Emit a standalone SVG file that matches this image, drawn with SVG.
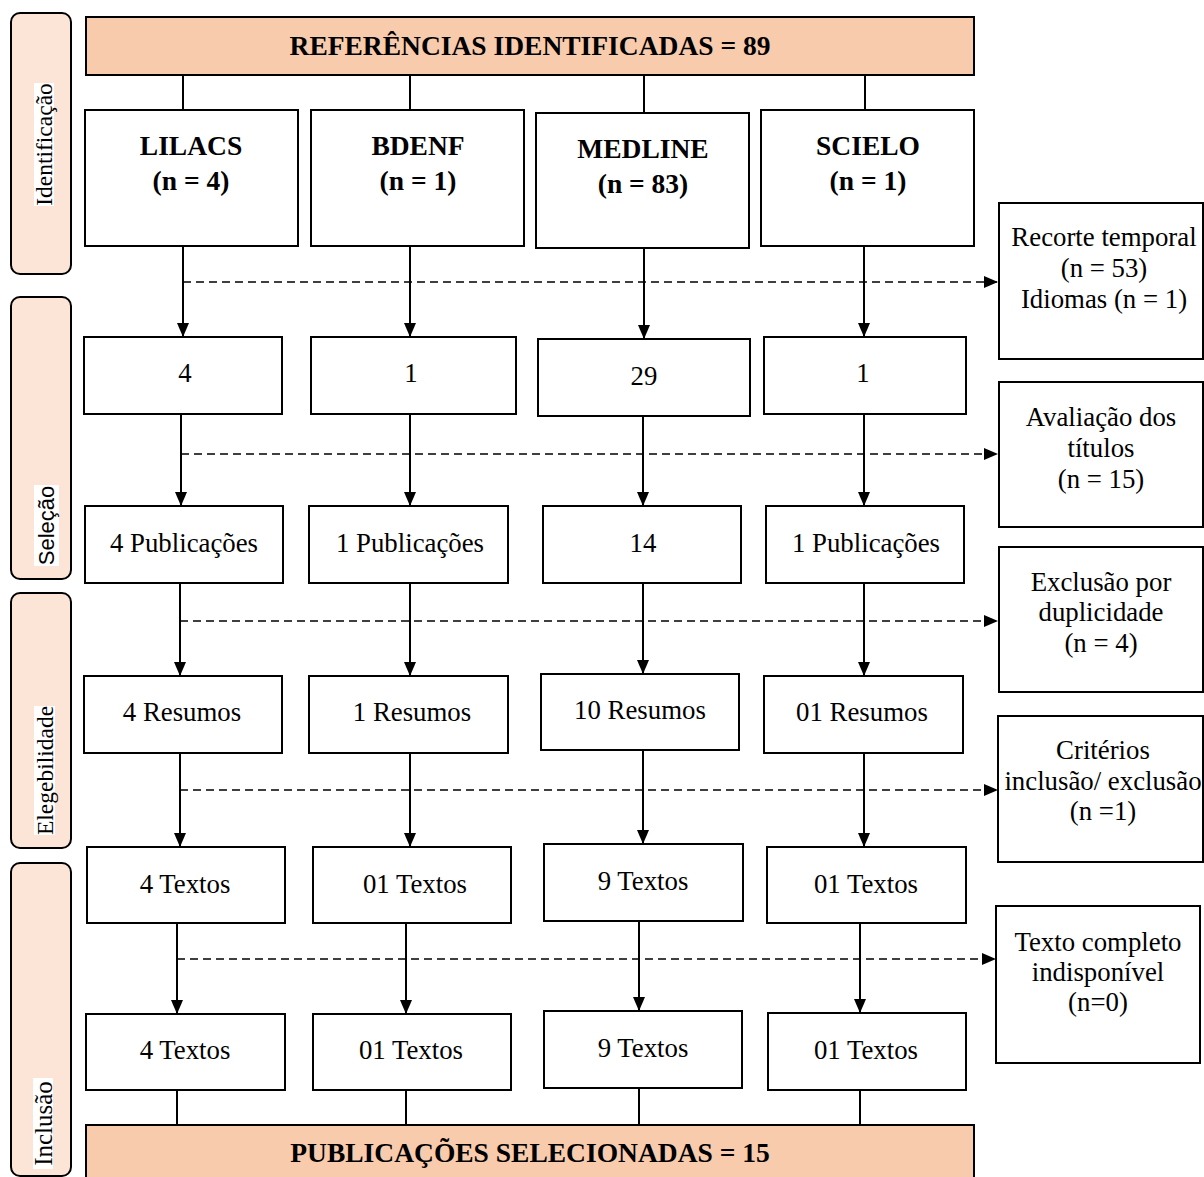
<svg xmlns="http://www.w3.org/2000/svg" width="1204" height="1177" viewBox="0 0 1204 1177">
<style>
.band{fill:#fce4d6;stroke:#000;stroke-width:2}
.hdr{fill:#f8cbad;stroke:#000;stroke-width:2}
.box{fill:#fff;stroke:#000;stroke-width:2}
.t{font-family:"Liberation Serif","Times New Roman",serif;font-size:26.8px;fill:#000;text-anchor:middle;dominant-baseline:central}
.b{font-family:"Liberation Serif","Times New Roman",serif;font-size:27.5px;font-weight:bold;fill:#000;text-anchor:middle;dominant-baseline:central}
.side{font-family:"Liberation Serif","Times New Roman",serif;font-size:23.5px;fill:#000;text-anchor:middle;dominant-baseline:central}
.sides{font-family:"Liberation Sans",Arial,sans-serif;font-size:22px;fill:#000;text-anchor:middle;dominant-baseline:central}
.ln{stroke:#000;stroke-width:2;fill:none}
.ar{stroke:#000;stroke-width:2;fill:none;marker-end:url(#ah)}
.da{stroke:#000;stroke-width:1.6;fill:none;stroke-dasharray:8 5;marker-end:url(#ah)}
</style>
<defs>
<marker id="ah" viewBox="0 0 14 12" refX="14" refY="6" markerWidth="14" markerHeight="12" markerUnits="userSpaceOnUse" orient="auto">
<path d="M0,0 L14,6 L0,12 Z" fill="#000"/>
</marker>
</defs>
<rect width="1204" height="1177" fill="#fff"/>

<g id="phases">
<g id="phase-identificacao">
<rect class="band" x="11" y="13" width="60" height="261" rx="9"/>
<rect x="34" y="83" width="20" height="123" fill="#fff"/>
<text class="side" transform="translate(44,144.5) rotate(-90)">Identificação</text>
</g>
<g id="phase-selecao">
<rect class="band" x="11" y="297" width="60" height="282" rx="9"/>
<rect x="34" y="485" width="25" height="81" fill="#fff"/>
<text class="sides" transform="translate(46.5,525.5) rotate(-90)">Seleção</text>
</g>
<g id="phase-elegebilidade">
<rect class="band" x="11" y="593" width="60" height="255" rx="9"/>
<rect x="34" y="706" width="21" height="129" fill="#fff"/>
<text class="side" transform="translate(44.5,770.5) rotate(-90)">Elegebilidade</text>
</g>
<g id="phase-inclusao">
<rect class="band" x="11" y="863" width="60" height="313" rx="9"/>
<rect x="33" y="1078" width="20" height="91" fill="#fff"/>
<text class="side" style="font-size:25px" transform="translate(43,1123.5) rotate(-90)">Inclusão</text>
</g>
</g>

<g id="connectors">
<line class="ln" x1="183" y1="75" x2="183" y2="110"/>
<line class="ln" x1="410" y1="75" x2="410" y2="110"/>
<line class="ln" x1="644" y1="75" x2="644" y2="113"/>
<line class="ln" x1="865" y1="75" x2="865" y2="110"/>

<line class="ar" x1="183" y1="246" x2="183" y2="337"/>
<line class="ar" x1="410" y1="246" x2="410" y2="337"/>
<line class="ar" x1="644" y1="248" x2="644" y2="339"/>
<line class="ar" x1="864" y1="246" x2="864" y2="337"/>
<line class="da" x1="183" y1="282" x2="998" y2="282"/>

<line class="ar" x1="181" y1="414" x2="181" y2="506"/>
<line class="ar" x1="410" y1="414" x2="410" y2="506"/>
<line class="ar" x1="643" y1="416" x2="643" y2="506"/>
<line class="ar" x1="864" y1="414" x2="864" y2="506"/>
<line class="da" x1="181" y1="454" x2="998" y2="454"/>

<line class="ar" x1="180" y1="583" x2="180" y2="676"/>
<line class="ar" x1="410" y1="583" x2="410" y2="676"/>
<line class="ar" x1="643" y1="583" x2="643" y2="674"/>
<line class="ar" x1="864" y1="583" x2="864" y2="676"/>
<line class="da" x1="180" y1="621" x2="998" y2="621"/>

<line class="ar" x1="180" y1="753" x2="180" y2="847"/>
<line class="ar" x1="410" y1="753" x2="410" y2="847"/>
<line class="ar" x1="643" y1="750" x2="643" y2="844"/>
<line class="ar" x1="864" y1="753" x2="864" y2="847"/>
<line class="da" x1="180" y1="790" x2="998" y2="790"/>

<line class="ar" x1="177" y1="923" x2="177" y2="1014"/>
<line class="ar" x1="406" y1="923" x2="406" y2="1014"/>
<line class="ar" x1="639" y1="921" x2="639" y2="1011"/>
<line class="ar" x1="860" y1="923" x2="860" y2="1013"/>
<line class="da" x1="177" y1="959" x2="996" y2="959"/>

<line class="ln" x1="177" y1="1090" x2="177" y2="1125"/>
<line class="ln" x1="406" y1="1090" x2="406" y2="1125"/>
<line class="ln" x1="639" y1="1088" x2="639" y2="1125"/>
<line class="ln" x1="860" y1="1090" x2="860" y2="1125"/>
</g>

<g id="header">
<rect class="hdr" x="86" y="17" width="888" height="58"/>
<text class="b" x="530" y="45">REFERÊNCIAS IDENTIFICADAS = 89</text>
</g>

<g id="lilacs"><rect class="box" x="85" y="110" width="213" height="136"/><text class="b" x="191" y="145">LILACS</text><text class="b" x="191" y="180">(n = 4)</text></g>
<g id="bdenf"><rect class="box" x="311" y="110" width="213" height="136"/><text class="b" x="418" y="145">BDENF</text><text class="b" x="418" y="180">(n = 1)</text></g>
<g id="medline"><rect class="box" x="536" y="113" width="213" height="135"/><text class="b" x="643" y="148">MEDLINE</text><text class="b" x="643" y="183">(n = 83)</text></g>
<g id="scielo"><rect class="box" x="761" y="110" width="213" height="136"/><text class="b" x="868" y="145">SCIELO</text><text class="b" x="868" y="180">(n = 1)</text></g>

<g id="s1"><rect class="box" x="84" y="337" width="198" height="77"/><text class="t" x="185" y="373">4</text></g>
<g id="s2"><rect class="box" x="311" y="337" width="205" height="77"/><text class="t" x="411" y="373">1</text></g>
<g id="s3"><rect class="box" x="538" y="339" width="212" height="77"/><text class="t" x="644" y="376">29</text></g>
<g id="s4"><rect class="box" x="764" y="337" width="202" height="77"/><text class="t" x="863" y="373">1</text></g>

<g id="p1"><rect class="box" x="85" y="506" width="198" height="77"/><text class="t" x="184" y="543">4 Publicações</text></g>
<g id="p2"><rect class="box" x="309" y="506" width="199" height="77"/><text class="t" x="410" y="543">1 Publicações</text></g>
<g id="p3"><rect class="box" x="543" y="506" width="198" height="77"/><text class="t" x="643" y="543">14</text></g>
<g id="p4"><rect class="box" x="766" y="506" width="198" height="77"/><text class="t" x="866" y="543">1 Publicações</text></g>

<g id="r1"><rect class="box" x="84" y="676" width="198" height="77"/><text class="t" x="182" y="712">4 Resumos</text></g>
<g id="r2"><rect class="box" x="309" y="676" width="199" height="77"/><text class="t" x="412" y="712">1 Resumos</text></g>
<g id="r3"><rect class="box" x="541" y="674" width="198" height="76"/><text class="t" x="640" y="710">10 Resumos</text></g>
<g id="r4"><rect class="box" x="764" y="676" width="199" height="77"/><text class="t" x="862" y="712">01 Resumos</text></g>

<g id="t1"><rect class="box" x="87" y="847" width="198" height="76"/><text class="t" x="185" y="884">4 Textos</text></g>
<g id="t2"><rect class="box" x="313" y="847" width="198" height="76"/><text class="t" x="415" y="884">01 Textos</text></g>
<g id="t3"><rect class="box" x="544" y="844" width="199" height="77"/><text class="t" x="643" y="881">9 Textos</text></g>
<g id="t4"><rect class="box" x="767" y="847" width="199" height="76"/><text class="t" x="866" y="884">01 Textos</text></g>

<g id="f1"><rect class="box" x="86" y="1014" width="199" height="76"/><text class="t" x="185" y="1050">4 Textos</text></g>
<g id="f2"><rect class="box" x="313" y="1014" width="198" height="76"/><text class="t" x="411" y="1050">01 Textos</text></g>
<g id="f3"><rect class="box" x="544" y="1011" width="198" height="77"/><text class="t" x="643" y="1048">9 Textos</text></g>
<g id="f4"><rect class="box" x="768" y="1013" width="198" height="77"/><text class="t" x="866" y="1050">01 Textos</text></g>

<g id="ex1"><rect class="box" x="999" y="203" width="204" height="156"/><text class="t" x="1104" y="237">Recorte temporal</text><text class="t" x="1104" y="268">(n = 53)</text><text class="t" x="1104" y="299">Idiomas (n = 1)</text></g>
<g id="ex2"><rect class="box" x="999" y="382" width="204" height="145"/><text class="t" x="1101" y="417">Avaliação dos</text><text class="t" x="1101" y="448">títulos</text><text class="t" x="1101" y="479">(n = 15)</text></g>
<g id="ex3"><rect class="box" x="999" y="547" width="204" height="145"/><text class="t" x="1101" y="582">Exclusão por</text><text class="t" x="1101" y="612">duplicidade</text><text class="t" x="1101" y="643">(n = 4)</text></g>
<g id="ex4"><rect class="box" x="998" y="716" width="205" height="146"/><text class="t" x="1103" y="750">Critérios</text><text class="t" x="1103" y="781">inclusão/ exclusão</text><text class="t" x="1103" y="811">(n =1)</text></g>
<g id="ex5"><rect class="box" x="996" y="906" width="204" height="157"/><text class="t" x="1098" y="942">Texto completo</text><text class="t" x="1098" y="972">indisponível</text><text class="t" x="1098" y="1002">(n=0)</text></g>

<g id="footer">
<rect class="hdr" x="86" y="1125" width="888" height="56"/>
<text class="b" x="530" y="1152">PUBLICAÇÕES SELECIONADAS = 15</text>
</g>
</svg>
